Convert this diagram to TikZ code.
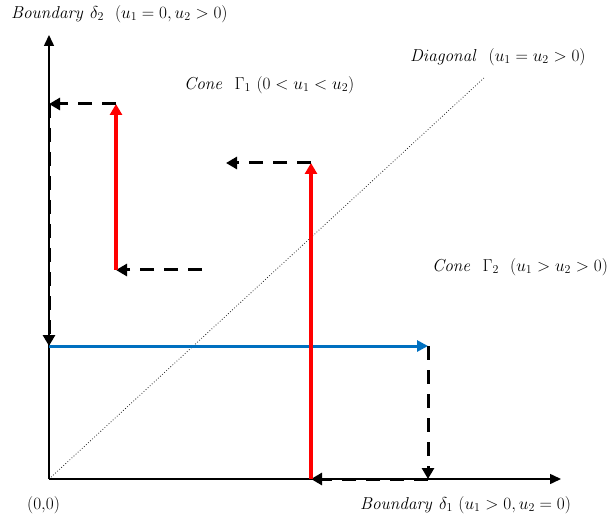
\documentclass[tikz,border=0pt]{standalone}
\usetikzlibrary{arrows.meta}
\definecolor{myblue}{RGB}{0,112,192}
\begin{document}
\begin{tikzpicture}[x=1pt,y=-1pt,
  axis/.style={line width=1.5pt,-{Triangle[length=11pt,width=10pt]}},
  redarr/.style={red,line width=3.5pt,-{Triangle[length=11pt,width=12pt]}},
  bluearr/.style={myblue,line width=3pt,-{Triangle[length=11pt,width=11pt]}},
  dasharr/.style={black,line width=3pt,dash pattern=on 14pt off 10pt,-{Triangle[length=11pt,width=12pt]}},
  lbl/.style={font=\fontsize{18.5}{22}\selectfont,inner sep=0pt,anchor=west}]
\useasboundingbox (0,0) rectangle (610,521);
\coordinate (O) at (49,479);
\coordinate (Ytop) at (49,35);
\coordinate (Xend) at (561,479);
\coordinate (Dend) at (485,77);
\coordinate (B1) at (49,346);
\coordinate (B2) at (428,346);
\coordinate (B3) at (428,479);
\coordinate (R1) at (311,479);
\coordinate (R2) at (311,163);
\coordinate (R3) at (226,163);
\coordinate (L0) at (202,270);
\coordinate (L1) at (116,270);
\coordinate (L2) at (116,104);
\coordinate (L3) at (49,104);
% diagonal
\draw[dotted,line width=0.8pt,black!85] (O) -- (Dend);
% axes
\draw[axis] (O) -- (Ytop);
\draw[axis] (O) -- (Xend);
% right path
\draw[bluearr] (B1) -- (B2);
\draw[dasharr] (B2) -- (B3);
\draw[dasharr] (B3) -- (R1);
\draw[redarr] (R1) -- (R2);
\draw[dasharr] (R2) -- (R3);
% left path
\draw[dasharr] (L0) -- (L1);
\draw[redarr] (L1) -- (L2);
\draw[dasharr] (L2) -- (L3);
\draw[dasharr] (L3) -- (B1);
% labels
\node[lbl] (t1) at (11,14) {$\mathit{Boundary}\ \delta_2\ \ (u_1=0,u_2>0)$};
\node[lbl] (t2) at (184,85) {$\mathit{Cone}\ \ \Gamma_1\ (0<u_1<u_2)$};
\node[lbl] (t3) at (410,57) {$\mathit{Diagonal}\ \ (u_1=u_2>0)$};
\node[lbl] (t4) at (432,267) {$\mathit{Cone}\ \ \Gamma_2\ \ (u_1>u_2>0)$};
\node[lbl] (t5) at (27,505) {$(0{,}0)$};
\node[lbl] (t6) at (360,505) {$\mathit{Boundary}\ \delta_1\ (u_1>0,u_2=0)$};
\end{tikzpicture}
\end{document}
